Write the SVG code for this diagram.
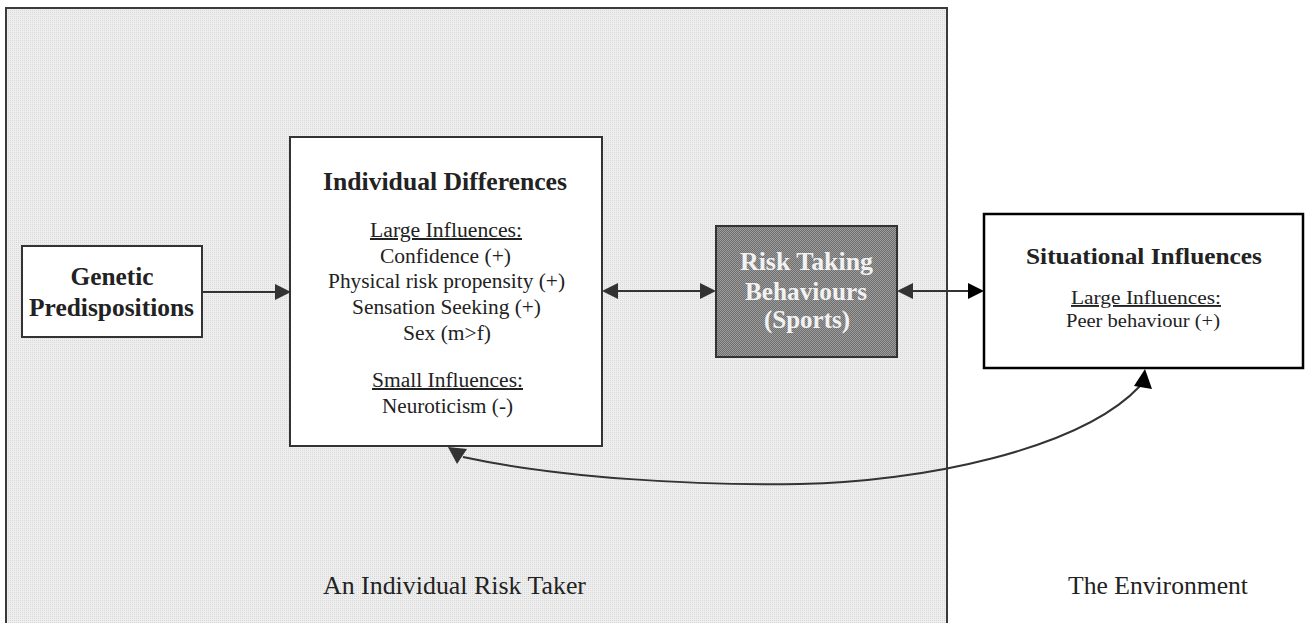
<svg xmlns="http://www.w3.org/2000/svg" width="1305" height="623" viewBox="0 0 1305 623">
<style>
  text { font-family: "Liberation Serif", "Times New Roman", serif; text-anchor: middle; fill: #222; }
  .b { font-weight: bold; }
  .t25 { font-size: 25px; }
  .t20 { font-size: 20px; }
  .t19 { font-size: 19px; }
  .u { text-decoration: underline; }
  .box { fill: #ffffff; stroke: #333333; stroke-width: 2; }
  .conn { fill: none; stroke: #333333; stroke-width: 2; }
  .head { fill: #333333; }
  .blk { stroke: #000000; fill: #000000; }
  .risktxt { fill: #f2f2f2; font-weight: bold; font-size: 25px; }
</style>
<defs>
  <pattern id="bgdots" width="2" height="2" patternUnits="userSpaceOnUse">
    <rect width="2" height="2" fill="#eeeeee"/>
    <rect width="1" height="1" fill="#d9d9d9"/>
  </pattern>
  <pattern id="darkdots" width="2" height="2" patternUnits="userSpaceOnUse">
    <rect width="2" height="2" fill="#6e6e6e"/>
    <rect width="1" height="1" fill="#9c9c9c"/>
    <rect x="1" y="1" width="1" height="1" fill="#9c9c9c"/>
  </pattern>
</defs>
<rect width="1305" height="623" fill="#ffffff"/>

<g id="risk-taker-area">
  <rect x="6" y="8" width="941" height="640" fill="url(#bgdots)" stroke="#3a3a3a" stroke-width="2"/>
  <text class="t25" x="454.5" y="594" textLength="263" lengthAdjust="spacingAndGlyphs">An Individual Risk Taker</text>
</g>

<g id="environment-label">
  <text class="t25" x="1158" y="594" fill="#111" textLength="180" lengthAdjust="spacingAndGlyphs">The Environment</text>
</g>

<g id="genetic">
  <rect class="box" x="22" y="246" width="180" height="91"/>
  <text class="b t25" x="112" y="285" textLength="83" lengthAdjust="spacingAndGlyphs">Genetic</text>
  <text class="b t25" x="111.5" y="316" textLength="165" lengthAdjust="spacingAndGlyphs">Predispositions</text>
</g>

<g id="individual-differences">
  <rect class="box" x="290" y="137" width="312" height="309"/>
  <text class="b t25" x="445" y="190" textLength="244" lengthAdjust="spacingAndGlyphs">Individual Differences</text>
  <text class="t20 u" x="446" y="237" textLength="152" lengthAdjust="spacingAndGlyphs">Large Influences:</text>
  <text class="t20" x="445.5" y="263" textLength="131" lengthAdjust="spacingAndGlyphs">Confidence (+)</text>
  <text class="t20" x="446.5" y="288" textLength="237" lengthAdjust="spacingAndGlyphs">Physical risk propensity (+)</text>
  <text class="t20" x="446.5" y="314" textLength="189" lengthAdjust="spacingAndGlyphs">Sensation Seeking (+)</text>
  <text class="t20" x="447" y="340" textLength="88" lengthAdjust="spacingAndGlyphs">Sex (m&gt;f)</text>
  <text class="t20 u" x="447.5" y="387" textLength="151" lengthAdjust="spacingAndGlyphs">Small Influences:</text>
  <text class="t20" x="447.5" y="413" textLength="131" lengthAdjust="spacingAndGlyphs">Neuroticism (-)</text>
</g>

<g id="risk-taking">
  <rect x="716" y="226" width="181" height="131" fill="url(#darkdots)" stroke="#333333" stroke-width="2"/>
  <text class="risktxt" x="806.5" y="270" textLength="133" lengthAdjust="spacingAndGlyphs">Risk Taking</text>
  <text class="risktxt" x="806" y="300" textLength="122" lengthAdjust="spacingAndGlyphs">Behaviours</text>
  <text class="risktxt" x="807" y="328" textLength="86" lengthAdjust="spacingAndGlyphs">(Sports)</text>
</g>

<g id="situational">
  <rect x="984" y="214" width="319" height="154" fill="#ffffff" stroke="#000000" stroke-width="2.5"/>
  <text class="b" x="1144" y="264" font-size="23" fill="#111" textLength="236" lengthAdjust="spacingAndGlyphs">Situational Influences</text>
  <text class="t19 u" x="1146" y="304" fill="#111" textLength="150" lengthAdjust="spacingAndGlyphs">Large Influences:</text>
  <text class="t19" x="1143" y="327" fill="#111" textLength="154" lengthAdjust="spacingAndGlyphs">Peer behaviour (+)</text>
</g>

<g id="connectors">
  <!-- Genetic -> Individual Differences -->
  <line class="conn" x1="202" y1="292" x2="278" y2="292"/>
  <polygon class="head" points="291,292 275,284 275,300"/>
  <!-- Individual Differences <-> Risk Taking -->
  <line class="conn" x1="614" y1="291" x2="703" y2="291"/>
  <polygon class="head" points="602,291 618,283 618,299"/>
  <polygon class="head" points="716,291 700,283 700,299"/>
  <!-- Risk Taking <-> Situational -->
  <line class="conn" x1="909" y1="291" x2="972" y2="291"/>
  <polygon class="head" points="897,291 913,283 913,299"/>
  <polygon points="984,291 968,283 968,299" fill="#000000"/>
  <!-- Curved Individual Differences <-> Situational -->
  <path class="conn" d="M463,457 C560,478 700,486 800,484 C920,482 1080,450 1140,386" stroke="#222222" stroke-width="2.5"/>
  <polygon class="head" points="448,447 467,449 457,464"/>
  <polygon points="1145,369 1134,386 1152,389" fill="#000000"/>
</g>
</svg>
